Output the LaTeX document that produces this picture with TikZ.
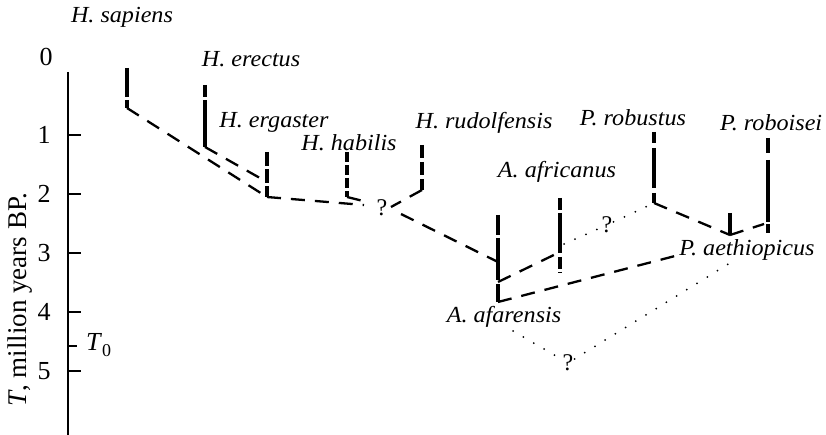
\documentclass[tikz,border=0pt]{standalone}
\usepackage{fontspec}
\setmainfont{Liberation Serif}
\newfontfamily\labfont[FakeStretch=1.05]{Liberation Serif}
\begin{document}
\begin{tikzpicture}[x=1pt,y=-1pt,
  axisline/.style={line width=2pt},
  bar/.style={line width=3.6pt},
  dline/.style={line width=2.3pt, dash pattern=on 14pt off 10pt},
  dotline/.style={line width=2pt, line cap=round, dash pattern=on 0pt off 12pt},
  spl/.style={font={\labfont\itshape\fontsize{23pt}{26pt}\selectfont}, inner sep=0pt},
  num/.style={font={\fontsize{26pt}{28pt}\selectfont}, inner sep=0pt},
  qm/.style={font={\fontsize{24pt}{26pt}\selectfont}, inner sep=1pt}]
\useasboundingbox (0,0) rectangle (826,435);
% axis
\coordinate (axT) at (68,72);
\coordinate (axB) at (68,435);
\draw[axisline] (axT) -- (axB);
\foreach \v/\yy in {1/135,2/194,3/253,4/312,5/371}{
  \coordinate (t\v) at (68,\yy);
  \coordinate (te\v) at (81,\yy);
  \draw[axisline] (t\v) -- (te\v);
  \node[num] (n\v) at (44,\yy) {\v};
}
\node[num] (n0) at (46,57) {0};
\coordinate (tz) at (68,346);
\coordinate (tze) at (77,346);
\draw[axisline] (tz) -- (tze);
\node[num, anchor=west] (tzero) at (86,345) {\textit{T}\raisebox{-0.2em}{\fontsize{18pt}{20pt}\selectfont 0}};
\node[font={\fontsize{27pt}{29pt}\selectfont}, rotate=90, inner sep=0pt] (axlab) at (20,300) {\textit{T}, million years BP.};
% bars
\coordinate (sapT) at (127,68);  \coordinate (sapB) at (127,108);
\coordinate (ereT) at (205,85);  \coordinate (ereB) at (205,147);
\coordinate (ergT) at (267,152); \coordinate (ergB) at (267,197);
\coordinate (ergM) at (267,182);
\coordinate (habT) at (347,152); \coordinate (habB) at (347,197);
\coordinate (rudT) at (422,145); \coordinate (rudB) at (422,190);
\coordinate (afaT) at (498,215); \coordinate (afaB) at (498,302);
\coordinate (afaM) at (498,262); \coordinate (afaN) at (498,282);
\coordinate (afrT) at (560,198); \coordinate (afrB) at (560,273);
\coordinate (afrM) at (560,252); \coordinate (afrD) at (564,244);
\coordinate (robT) at (654,132); \coordinate (robB) at (654,203);
\coordinate (aetT) at (730,213); \coordinate (aetB) at (730,235);
\coordinate (boiT) at (768,138); \coordinate (boiB) at (768,233);
\coordinate (boiJ) at (764,224);
\draw[bar, dash pattern=on 29pt off 3pt] (sapT) -- (sapB);
\draw[bar, dash pattern=on 12pt off 3pt on 60pt off 3pt] (ereT) -- (ereB);
\draw[bar, dash pattern=on 14pt off 3pt] (ergT) -- (ergB);
\draw[bar, dash pattern=on 10pt off 3pt] (habT) -- (habB);
\draw[bar, dash pattern=on 13pt off 4pt] (rudT) -- (rudB);
\draw[bar, dash pattern=on 20pt off 3pt on 42pt off 4pt] (afaT) -- (afaB);
\draw[bar, dash pattern=on 12pt off 3pt on 40pt off 4pt] (afrT) -- (afrB);
\draw[bar, dash pattern=on 11pt off 5pt on 40pt off 5pt] (robT) -- (robB);
\draw[bar] (aetT) -- (aetB);
\draw[bar, dash pattern=on 15pt off 7pt on 62pt off 2pt] (boiT) -- (boiB);
% question marks
\node[qm] (q1) at (382,208) {?};
\node[qm] (q2) at (607,225) {?};
\node[qm] (q3) at (568,363) {?};
% dashed connections
\coordinate (hj) at (364,205);
\coordinate (hj2) at (363,201);
\coordinate (rj) at (391,207);
\coordinate (qs) at (401,214);
\coordinate (aetL) at (675,256);
\draw[dline] (sapB) -- (ergB);
\draw[dline] (ereB) -- (ergM);
\draw[dline] (ergB) -- (hj);
\draw[dline] (habB) -- (hj2);
\draw[dline] (rudB) -- (rj);
\draw[dline] (qs) -- (afaM);
\draw[dline] (afaN) -- (afrM);
\draw[dline] (afaB) -- (aetL);
\draw[dline] (robB) -- (aetB);
\draw[dline] (aetB) -- (boiJ);
% dotted connections
\coordinate (afd) at (513,331);
\coordinate (aed) at (730,263);
\draw[dotline] (afrD) -- (q2);
\draw[dotline] (q2) -- (robB);
\draw[dotline] (afd) -- (q3);
\draw[dotline] (q3) -- (aed);
% labels
\node[spl] (lsap) at (122,17) {H. sapiens};
\node[spl] (lere) at (251,59) {H. erectus};
\node[spl] (lerg) at (274,122) {H. ergaster};
\node[spl] (lhab) at (349,143) {H. habilis};
\node[spl] (lrud) at (484,123) {H. rudolfensis};
\node[spl] (lafr) at (557,172) {A. africanus};
\node[spl] (lrob) at (633,118) {P. robustus};
\node[spl, anchor=west] (lboi) at (720,123) {P. roboisei};
\node[spl] (laet) at (747,250) {P. aethiopicus};
\node[spl] (lafa) at (504,317) {A. afarensis};
\end{tikzpicture}
\end{document}
